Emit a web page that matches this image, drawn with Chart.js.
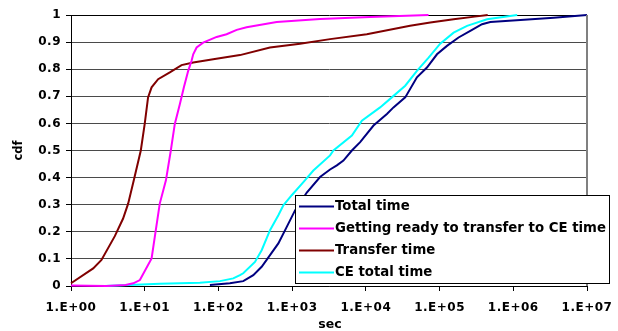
<!DOCTYPE html>
<html>
<head>
<meta charset="utf-8">
<script src="https://cdn.jsdelivr.net/npm/chart.js@4.4.1/dist/chart.umd.min.js"></script>
<style>
  html, body { margin: 0; padding: 0; background: #ffffff; }
  #wrap { width: 618px; height: 331px; }
</style>
</head>
<body>
<div id="wrap"><canvas id="cdf" width="618" height="331"></canvas></div>
<script>
// Series names, in legend order
const seriesNames = [
  'Total time',
  'Getting ready to transfer to CE time',
  'Transfer time',
  'CE total time'
];
const seriesColors = ['#000080', '#FF00FF', '#800000', '#00FFFF'];

// Total time: seconds and cumulative fraction
const totalSec = [76.6, 143, 217, 297, 386, 501, 650, 845, 1095, 1580, 2390, 3270, 4040, 4960, 6460, 8370,
  12700, 19300, 23700, 34200, 49300, 67400, 92200, 126000, 181000, 261000, 377000, 488000, 1250000, 3540000, 10000000];
const totalCdf = [0.004, 0.01, 0.018, 0.04, 0.071, 0.114, 0.157, 0.218, 0.279, 0.345, 0.402, 0.43, 0.445, 0.463, 0.5, 0.531,
  0.592, 0.635, 0.659, 0.696, 0.77, 0.806, 0.855, 0.886, 0.917, 0.941, 0.966, 0.974, 0.982, 0.99, 1.0];

// Getting ready to transfer to CE time
const readySec = [1, 3, 5.5, 7, 8.6, 12.4, 13.7, 16, 19.4, 22.6, 25.6, 30, 34, 38.9, 43.2, 45.5, 50.6, 62,
  94.6, 129, 177, 241, 617, 2393, 11400, 70800];
const readyCdf = [0.002, 0, 0.004, 0.01, 0.022, 0.102, 0.181, 0.304, 0.39, 0.5, 0.598, 0.672, 0.733, 0.794, 0.831, 0.855, 0.88, 0.898,
  0.919, 0.929, 0.945, 0.955, 0.974, 0.985, 0.993, 1.0];

// Transfer time
const transferSec = [1, 2, 2.59, 3.93, 5.09, 5.96, 7.11, 8.85, 10, 11.1, 12.4, 15.2, 21.9, 31.6, 45.5, 85,
  196, 500, 1280, 3275, 10300, 39800, 74800, 155000, 300000, 450000];
const transferCdf = [0.01, 0.065, 0.096, 0.184, 0.249, 0.304, 0.39, 0.5, 0.598, 0.696, 0.733, 0.763, 0.788, 0.815, 0.825, 0.837,
  0.852, 0.88, 0.894, 0.911, 0.929, 0.96, 0.972, 0.984, 0.994, 1.0];

// CE total time
const ceSec = [2.87, 16, 56, 105, 159, 196, 217, 313, 386, 501, 650, 760, 988, 1420, 1940, 3270, 3630, 6460, 8830,
  15600, 22500, 34200, 49300, 71000, 102000, 155000, 236000, 441000, 1130000];
const ceCdf = [0, 0.008, 0.012, 0.018, 0.028, 0.04, 0.047, 0.089, 0.132, 0.206, 0.261, 0.298, 0.335, 0.383, 0.426, 0.482, 0.5, 0.555, 0.61,
  0.659, 0.696, 0.739, 0.794, 0.843, 0.894, 0.935, 0.96, 0.984, 1.0];

// Axis ticks
const xTickValues = [1, 10, 100, 1000, 10000, 100000, 1000000, 10000000];
const xTickLabels = ['1.E+00', '1.E+01', '1.E+02', '1.E+03', '1.E+04', '1.E+05', '1.E+06', '1.E+07'];
const yTickLabels = ['0', '0.1', '0.2', '0.3', '0.4', '0.5', '0.6', '0.7', '0.8', '0.9', '1'];
const xTitle = 'sec';
const yTitle = 'cdf';

const FONT = '"DejaVu Sans", sans-serif';

function toPoints(xs, ys) {
  return xs.map((x, i) => ({ x: x, y: ys[i] }));
}

const seriesData = [
  toPoints(totalSec, totalCdf),
  toPoints(readySec, readyCdf),
  toPoints(transferSec, transferCdf),
  toPoints(ceSec, ceCdf)
];

// Wide tick lettering, then titles, plot border and the boxed legend on top
const decorations = {
  id: 'decorations',
  beforeDraw(chart) {
    chart.ctx.letterSpacing = '0.5px';
  },
  afterDatasetsDraw(chart) {
    const ctx = chart.ctx;
    const a = chart.chartArea;
    ctx.save();
    ctx.strokeStyle = '#808080';
    ctx.lineWidth = 2;
    ctx.beginPath();
    ctx.moveTo(a.right, a.top);
    ctx.lineTo(a.right, a.bottom);
    ctx.stroke();
    ctx.restore();
  },
  afterDraw(chart) {
    const ctx = chart.ctx;
    const a = chart.chartArea;
    ctx.save();
    ctx.fillStyle = '#000';
    ctx.font = 'bold 12.5px ' + FONT;
    ctx.letterSpacing = '0px';
    ctx.textAlign = 'center';
    ctx.textBaseline = 'middle';
    ctx.fillText(xTitle, 330, 325);
    ctx.save();
    ctx.translate(19, (a.top + a.bottom) / 2);
    ctx.rotate(-Math.PI / 2);
    ctx.font = 'bold 11.5px ' + FONT;
    ctx.fillText(yTitle, 0, 0);
    ctx.restore();

    // legend box
    const box = { x: 295.5, y: 195.5, w: 314, h: 88 };
    ctx.fillStyle = '#ffffff';
    ctx.fillRect(box.x, box.y, box.w, box.h);
    ctx.strokeStyle = '#000';
    ctx.lineWidth = 1;
    ctx.strokeRect(box.x, box.y, box.w, box.h);
    ctx.font = 'bold 13.3px ' + FONT;
    ctx.letterSpacing = '0px';
    ctx.textAlign = 'left';
    ctx.textBaseline = 'middle';
    const rowY = [206.5, 228.5, 250.5, 272.5];
    chart.data.datasets.forEach((ds, i) => {
      ctx.strokeStyle = ds.borderColor;
      ctx.lineWidth = 2;
      ctx.beginPath();
      ctx.moveTo(299, rowY[i]);
      ctx.lineTo(334, rowY[i]);
      ctx.stroke();
      ctx.fillStyle = '#000';
      ctx.fillText(ds.label, 335, rowY[i] + 0.5);
    });
    ctx.restore();
    ctx.letterSpacing = '0px';
  }
};

new Chart(document.getElementById('cdf'), {
  type: 'line',
  data: {
    datasets: seriesNames.map((name, i) => ({
      label: name,
      data: seriesData[i],
      borderColor: seriesColors[i],
      backgroundColor: seriesColors[i],
      borderWidth: 2,
      pointRadius: 0,
      tension: 0,
      fill: false,
      clip: 4
    }))
  },
  options: {
    responsive: false,
    animation: false,
    devicePixelRatio: 1,
    layout: { padding: { left: 0, right: 31, top: 15, bottom: 0 } },
    plugins: {
      legend: { display: false },
      tooltip: { enabled: false },
      title: { display: false }
    },
    scales: {
      x: {
        type: 'logarithmic',
        min: 1,
        max: 10000000,
        afterBuildTicks(scale) {
          scale.ticks = xTickValues.map(v => ({ value: v }));
        },
        afterFit(scale) {
          scale.height = 45;
          scale.paddingLeft = 0;
          scale.paddingRight = 0;
        },
        ticks: {
          autoSkip: false,
          maxRotation: 0,
          minRotation: 0,
          padding: 10,
          color: '#000',
          font: { family: FONT, size: 12, weight: 'bold' },
          callback: (v, i) => xTickLabels[i]
        },
        grid: {
          drawOnChartArea: false,
          drawTicks: true,
          tickLength: 5,
          tickColor: '#000'
        },
        border: { display: true, color: '#000', width: 1 }
      },
      y: {
        type: 'linear',
        min: 0,
        max: 1,
        afterFit(scale) {
          scale.width = 71;
          scale.paddingTop = 0;
          scale.paddingBottom = 0;
        },
        ticks: {
          stepSize: 0.1,
          padding: 5,
          color: '#000',
          font: { family: FONT, size: 12, weight: 'bold' },
          callback: (v, i) => yTickLabels[i]
        },
        grid: {
          color: ctx => (ctx.tick && ctx.tick.value === 1 ? '#000' : '#4a4a4a'),
          lineWidth: 1,
          drawTicks: true,
          tickLength: 5,
          tickColor: '#000'
        },
        border: { display: true, color: '#000', width: 1 }
      }
    }
  },
  plugins: [decorations]
});
</script>
</body>
</html>
